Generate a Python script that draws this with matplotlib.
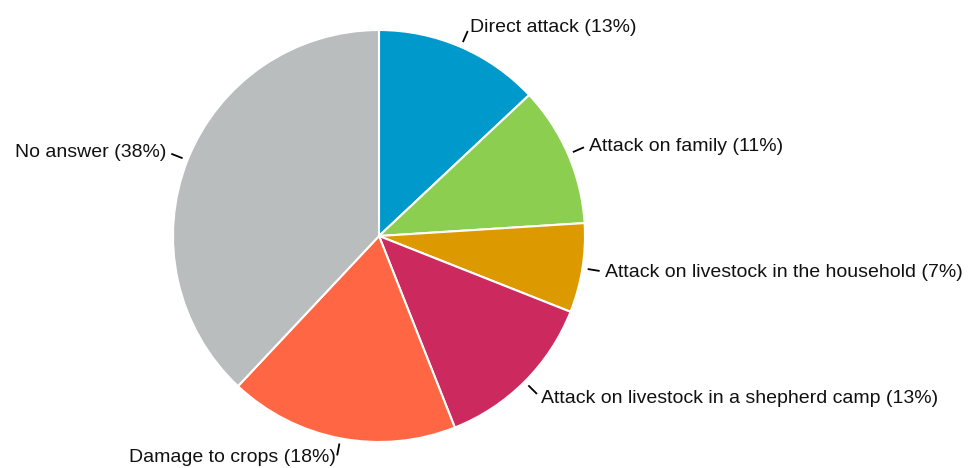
import numpy as np
import matplotlib.pyplot as plt

labels = ["Direct attack", "Attack on family", "Attack on livestock in the household",
          "Attack on livestock in a shepherd camp", "Damage to crops", "No answer"]
shares = [13, 11, 7, 13, 18, 38]
colors = ["#0099CC", "#8CCF50", "#DD9900", "#CC2A5E", "#FF6644", "#B9BDBD"]

plt.rcParams['font.family'] = ['Liberation Sans', 'DejaVu Sans']

fig = plt.figure(figsize=(9.71, 4.68), dpi=100)
ax = fig.add_axes([0, 0, 1, 1])

cx, cy, R = 379, 232, 206
wedges, _ = ax.pie(shares, colors=colors, startangle=90, counterclock=False,
                   center=(cx, cy), radius=R, frame=True,
                   wedgeprops=dict(edgecolor='white', linewidth=1.5))
ax.set_xlim(0, 971)
ax.set_ylim(0, 468)
ax.set_aspect('equal')
ax.axis('off')

# leader lines + labels
for w, lab, v in zip(wedges, labels, shares):
    ang = np.deg2rad((w.theta1 + w.theta2) / 2)
    c, s = np.cos(ang), np.sin(ang)
    ax.plot([cx + R * 1.03 * c, cx + R * 1.08 * c],
            [cy + R * 1.03 * s, cy + R * 1.08 * s], color='black', lw=1.3)
    ha = 'left' if c > 0 else 'right'
    ty = max(cy + R * 1.11 * s - 1, 11)  # keep bottom label inside the figure
    ax.text(cx + R * 1.11 * c, ty, f"{lab} ({v}%)",
            ha=ha, va='center', fontsize=14, color='#111111')

fig.savefig("out.png", dpi=100)
